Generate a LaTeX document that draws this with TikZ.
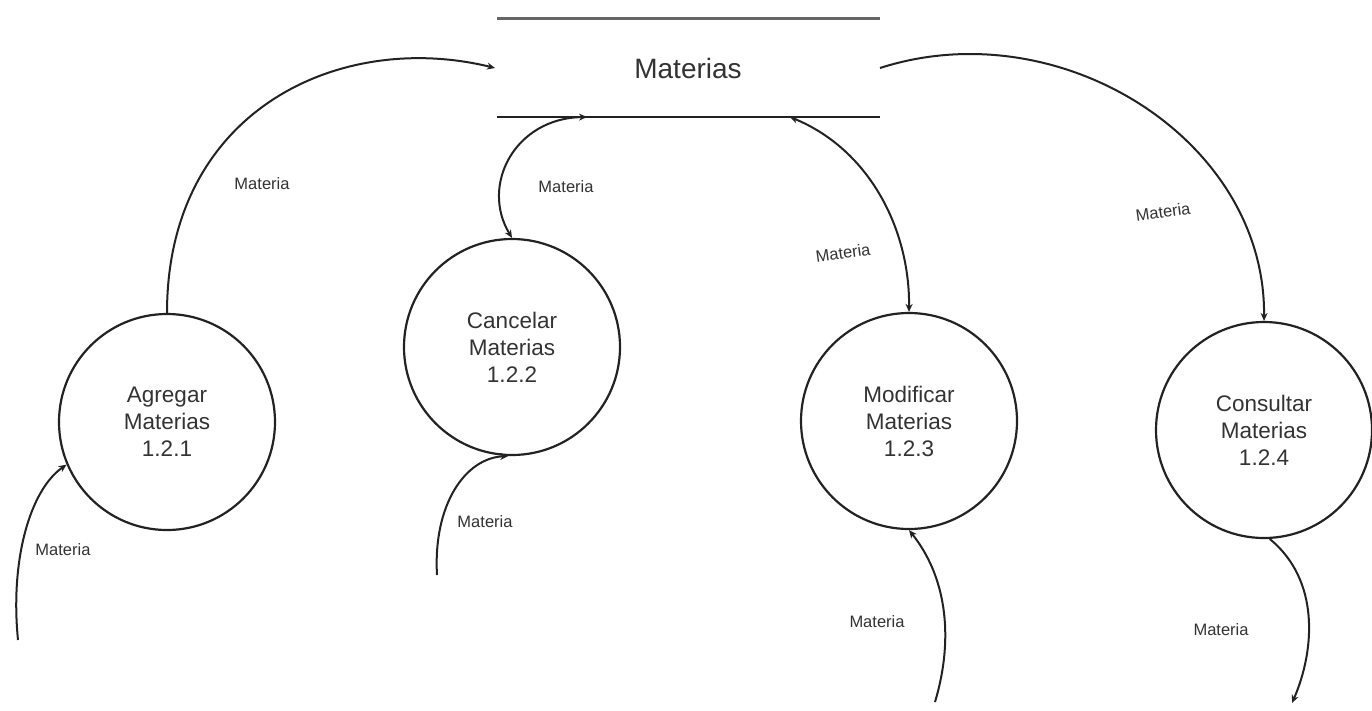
\documentclass[tikz,border=0pt]{standalone}
\usepackage{fontspec}
\setmainfont{Liberation Sans}
\usetikzlibrary{arrows.meta}
\definecolor{ink}{HTML}{222222}
\definecolor{txt}{HTML}{333333}
\begin{document}
\begin{tikzpicture}[x=1pt,y=-1pt,
  proc/.style={circle,draw=ink,line width=2.2pt,minimum size=216pt,inner sep=0pt,
    align=center,text=txt,font=\fontsize{22.5}{27}\selectfont},
  flow/.style={draw=ink,line width=2pt,-{Stealth[length=8pt,width=7pt]}},
  bflow/.style={flow,{Stealth[length=8pt,width=7pt]}-{Stealth[length=8pt,width=7pt]}},
  lbl/.style={text=txt,font=\fontsize{16.5}{18}\selectfont,inner sep=1pt}]
\useasboundingbox (0,0) rectangle (1372,710);

% data store
\draw[line width=3pt,draw=black!60] (497,18) -- (880,18);
\draw[line width=2.2pt,draw=ink] (497,117) -- (880,117);
\node[text=txt,font=\fontsize{28}{32}\selectfont] (store) at (688,68) {Materias};
\coordinate (sL) at (495,68);
\coordinate (sR) at (880,68);
\coordinate (sB1) at (587,117);
\coordinate (sB2) at (790,117);

% processes
\node[proc] (p1) at (167,422) {Agregar\\Materias\\1.2.1};
\node[proc] (p2) at (512,347) {Cancelar\\Materias\\1.2.2};
\node[proc] (p3) at (909,421) {Modificar\\Materias\\1.2.3};
\node[proc] (p4) at (1264,430) {Consultar\\Materias\\1.2.4};

% free ends of external flows
\coordinate (e1) at (18,640);
\coordinate (e2) at (437,575);
\coordinate (e3) at (935,702);
\coordinate (e4) at (1292,703);

% flows to and from the store
\draw[flow] (p1.north) .. controls (167,110) and (340,30) .. (sL);
\draw[bflow] (sB1) .. controls (515,118) and (480,185) .. (p2.north);
\draw[bflow] (sB2) .. controls (870,150) and (910,230) .. (p3.north);
\draw[flow] (sR) .. controls (1060,10) and (1266,140) .. (p4.north);

% external flows
\draw[flow] (e1) .. controls (10,560) and (30,490) .. (p1.-157);
\draw[flow] (e2) .. controls (433,505) and (465,458) .. (p2.-92);
\draw[flow] (e3) .. controls (955,635) and (945,575) .. (p3.-90);
\draw[flow] (p4.-87) .. controls (1320,580) and (1315,650) .. (e4);

% flow labels
\node[lbl] (l1) at (262,184) {Materia};
\node[lbl] (l2) at (566,187) {Materia};
\node[lbl,rotate=8] (l3) at (843,253) {Materia};
\node[lbl,rotate=8] (l4) at (1163,212) {Materia};
\node[lbl] (l5) at (63,550) {Materia};
\node[lbl] (l6) at (485,522) {Materia};
\node[lbl] (l7) at (877,622) {Materia};
\node[lbl] (l8) at (1221,630) {Materia};
\end{tikzpicture}
\end{document}
